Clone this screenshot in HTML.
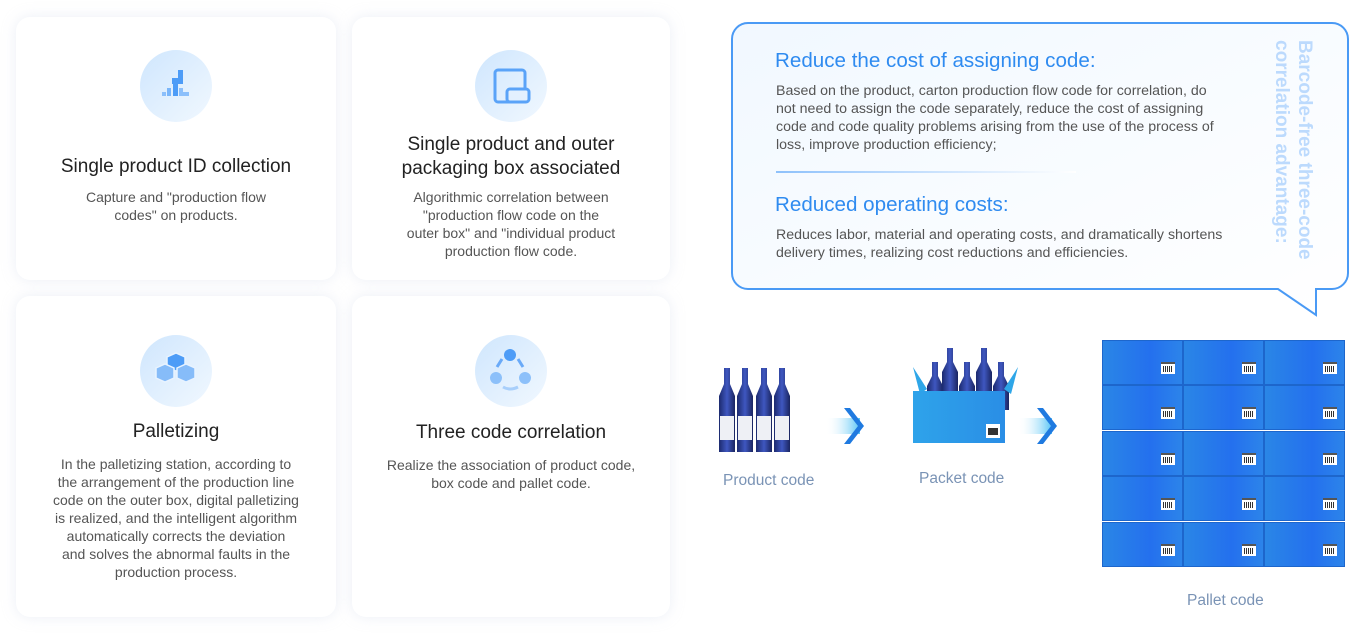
<!DOCTYPE html>
<html><head><meta charset="utf-8"><style>
*{margin:0;padding:0;box-sizing:border-box}
body{width:1367px;height:635px;background:#fff;font-family:"Liberation Sans",sans-serif;position:relative;overflow:hidden}
.card{position:absolute;background:#fff;border-radius:14px;box-shadow:0 0 14px rgba(200,210,230,.35);text-align:center}
.ic{position:absolute;width:72px;height:72px;border-radius:50%;background:linear-gradient(135deg,#cfe6fd,#f1f8ff);left:50%;margin-left:-36px}
.t{position:absolute;left:0;right:0;font-size:19px;color:#222;line-height:24px}
.d{position:absolute;left:0;right:0;font-size:14px;color:#555;line-height:18px;white-space:nowrap}
.abs{position:absolute}
.lbl{position:absolute;font-size:15.5px;color:#7a93b5}
.cell{position:absolute;width:81px;height:45px;background:linear-gradient(90deg,#2a86e6,#2470ee 60%,#2c84ea);border:1px solid #1d66cc}
.bc{position:absolute;left:58px;top:21px;width:14px;height:12px;background:#fff;border-top:2px solid #555}
.bc:after{content:"";position:absolute;left:2px;top:2px;width:10px;height:6px;background:repeating-linear-gradient(90deg,#333 0 1px,#fff 1px 2px)}
.cb{position:absolute;left:776px;font-size:14.2px;line-height:18px;color:#555;white-space:nowrap}
</style></head><body>

<div class="card" style="left:16px;top:17px;width:320px;height:263px">
 <div class="ic" style="top:33px"><svg width="72" height="72"><g fill="#4d9cf7"><rect x="38" y="20" width="5" height="10"/><rect x="32" y="28" width="11" height="6"/><rect x="33" y="34" width="5" height="12"/><rect x="27" y="38" width="4" height="8" fill="#7ab6fa"/><rect x="39" y="38" width="4" height="8" fill="#8bbffb"/><rect x="39" y="42" width="10" height="4" fill="#8bbffb"/><rect x="22" y="42" width="4" height="4" fill="#8bbffb"/></g></svg></div>
 <div class="t" style="top:138px">Single product ID collection</div>
 <div class="d" style="top:171px">Capture and "production flow<br>codes" on products.</div>
</div>

<div class="card" style="left:352px;top:17px;width:318px;height:263px">
 <div class="ic" style="top:33px"><svg width="72" height="72"><rect x="20" y="20" width="30" height="32" rx="3" fill="none" stroke="#5aa3f8" stroke-width="3"/><rect x="32" y="39" width="22" height="13" rx="3" fill="#e3f0fe" stroke="#5aa3f8" stroke-width="3"/></svg></div>
 <div class="t" style="top:116px">Single product and outer<br>packaging box associated</div>
 <div class="d" style="top:171px">Algorithmic correlation between<br>"production flow code on the<br>outer box" and "individual product<br>production flow code.</div>
</div>

<div class="card" style="left:16px;top:296px;width:320px;height:321px">
 <div class="ic" style="top:39px"><svg width="72" height="72"><g fill="#6aaaf8" stroke="#e8f3ff" stroke-width="1.5"><path d="M27 22l9-4 9 4v10l-9 4-9-4z" fill="#4d9cf7"/><path d="M16 33l9-4 9 4v10l-9 4-9-4z" fill="#86bcf9"/><path d="M37 33l9-4 9 4v10l-9 4-9-4z" fill="#86bcf9"/></g></svg></div>
 <div class="t" style="top:124px">Palletizing</div>
 <div class="d" style="top:159px">In the palletizing station, according to<br>the arrangement of the production line<br>code on the outer box, digital palletizing<br>is realized, and the intelligent algorithm<br>automatically corrects the deviation<br>and solves the abnormal faults in the<br>production process.</div>
</div>

<div class="card" style="left:352px;top:296px;width:318px;height:321px">
 <div class="ic" style="top:39px"><svg width="72" height="72"><circle cx="35" cy="20" r="6" fill="#4d9cf7"/><circle cx="21" cy="43" r="6" fill="#8cc0fa"/><circle cx="50" cy="43" r="6" fill="#8cc0fa"/><g fill="none" stroke="#6aaaf8" stroke-width="3"><path d="M22 32l5-8"/><path d="M48 32l-5-8"/><path d="M28 52q7 4 15 0" stroke="#a8cffb"/></g></svg></div>
 <div class="t" style="top:125px">Three code correlation</div>
 <div class="d" style="top:160px">Realize the association of product code,<br>box code and pallet code.</div>
</div>

<!-- callout -->
<svg class="abs" style="left:725px;top:15px" width="640" height="310">
 <defs><linearGradient id="cg" x1="0" x2="1" y1="0" y2="1"><stop offset="0" stop-color="#f1f8ff"/><stop offset="1" stop-color="#fff"/></linearGradient>
 <linearGradient id="ln" x1="0" x2="1"><stop offset="0" stop-color="#8ec1fb"/><stop offset="1" stop-color="#fff"/></linearGradient></defs>
 <path d="M23 8H607a16 16 0 0 1 16 16V258a16 16 0 0 1-16 16H591V300L553 274H23a16 16 0 0 1-16-16V24A16 16 0 0 1 23 8Z" fill="url(#cg)" stroke="#4a9af5" stroke-width="2"/>
 <rect x="51" y="156" width="300" height="2" fill="url(#ln)"/>
</svg>
<div class="abs" style="left:775px;top:49px;font-size:20.6px;color:#2f8bf0">Reduce the cost of assigning code:</div>
<div class="cb" style="top:82px">Based on the product, carton production flow code for correlation, do<br>not need to assign the code separately, reduce the cost of assigning<br>code and code quality problems arising from the use of the process of<br>loss, improve production efficiency;</div>
<div class="abs" style="left:775px;top:193px;font-size:20.6px;color:#2f8bf0">Reduced operating costs:</div>
<div class="cb" style="top:226px">Reduces labor, material and operating costs, and dramatically shortens<br>delivery times, realizing cost reductions and efficiencies.</div>
<div class="abs" style="left:1270px;top:40px;writing-mode:vertical-rl;font-size:19px;font-weight:bold;line-height:23px;color:#bcdafd;height:240px">Barcode-free three-code correlation advantage:</div>

<!-- bottles -->
<svg class="abs" style="left:710px;top:340px" width="380" height="120">
 <defs><linearGradient id="bt" x1="0" x2="1"><stop offset="0" stop-color="#1c2a6e"/><stop offset=".5" stop-color="#3f57c0"/><stop offset="1" stop-color="#1a2560"/></linearGradient>
 <linearGradient id="ar" x1="0" x2="1"><stop offset="0" stop-color="#fff" stop-opacity="0"/><stop offset="1" stop-color="#56c4f6"/></linearGradient>
 <linearGradient id="bx" x1="0" x2="1"><stop offset="0" stop-color="#2ea3ea"/><stop offset="1" stop-color="#2a8ee6"/></linearGradient>
 <g id="b"><path d="M-3 0h6v16l5 12v56h-16v-56l5-12z" fill="url(#bt)"/><rect x="-7" y="48" width="14" height="24" fill="#eef0f5"/></g>
 <g id="b2"><path d="M-3 0h6v14l5 10v24h-16v-24l5-10z" fill="url(#bt)"/></g></defs>
 <use href="#b" x="17" y="28"/><use href="#b" x="35" y="28"/><use href="#b" x="54" y="28"/><use href="#b" x="72" y="28"/>
 <rect x="116" y="78" width="34" height="16" fill="url(#ar)"/><path d="M140 68l14 18-14 18h-6l14-18-14-18z" fill="#1f7ae0"/>
 <use href="#b2" x="225" y="22"/><use href="#b2" x="257" y="22"/><use href="#b2" x="240" y="8"/><use href="#b2" x="274" y="8"/><use href="#b2" x="291" y="22"/>
 <path d="M203 27l14 22-7 5z" fill="#2ea6e8"/><path d="M308 27l-14 22 7 5z" fill="#2ea6e8"/>
 <rect x="203" y="51" width="92" height="52" fill="url(#bx)"/>
 <rect x="276" y="84" width="14" height="14" fill="#fff"/><rect x="278" y="88" width="10" height="7" fill="#333"/>
 <rect x="308" y="78" width="34" height="16" fill="url(#ar)"/><path d="M333 68l14 18-14 18h-6l14-18-14-18z" fill="#1f7ae0"/>
</svg>
<div class="lbl" style="left:723px;top:472px">Product code</div>
<div class="lbl" style="left:919px;top:470px">Packet code</div>
<div class="lbl" style="left:1187px;top:592px">Pallet code</div>

<!-- pallet -->
<div class="abs" style="left:1102px;top:340px;width:243px;height:227px">
<div class="cell" style="left:0;top:0"><div class="bc"></div></div><div class="cell" style="left:81px;top:0"><div class="bc"></div></div><div class="cell" style="left:162px;top:0"><div class="bc"></div></div>
<div class="cell" style="left:0;top:45px"><div class="bc"></div></div><div class="cell" style="left:81px;top:45px"><div class="bc"></div></div><div class="cell" style="left:162px;top:45px"><div class="bc"></div></div>
<div class="cell" style="left:0;top:91px"><div class="bc"></div></div><div class="cell" style="left:81px;top:91px"><div class="bc"></div></div><div class="cell" style="left:162px;top:91px"><div class="bc"></div></div>
<div class="cell" style="left:0;top:136px"><div class="bc"></div></div><div class="cell" style="left:81px;top:136px"><div class="bc"></div></div><div class="cell" style="left:162px;top:136px"><div class="bc"></div></div>
<div class="cell" style="left:0;top:182px"><div class="bc"></div></div><div class="cell" style="left:81px;top:182px"><div class="bc"></div></div><div class="cell" style="left:162px;top:182px"><div class="bc"></div></div>
</div>
</body></html>
